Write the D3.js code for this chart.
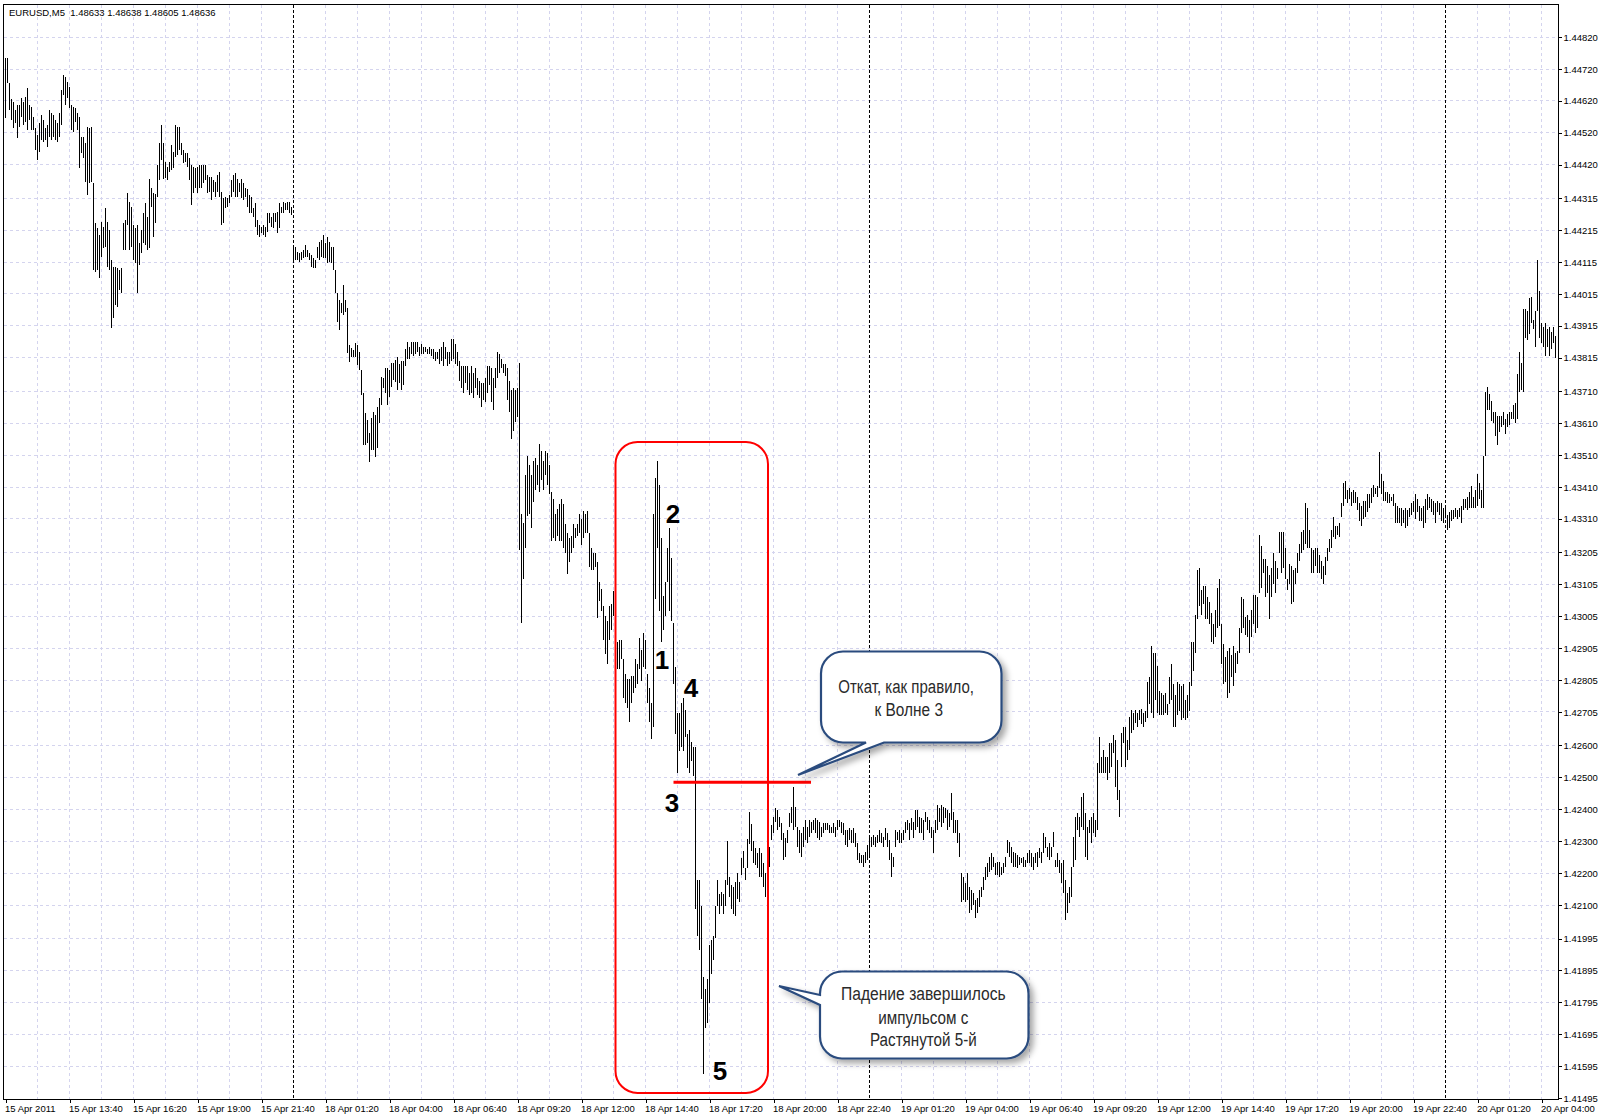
<!DOCTYPE html>
<html><head><meta charset="utf-8">
<script src="https://cdn.jsdelivr.net/npm/d3@7"></script>
<style>
body{margin:0;background:#fff}
svg{display:block}
text{font-family:"Liberation Sans",Arial,sans-serif}
</style>
</head><body>
<svg id="c" width="1600" height="1120"></svg>
<script>
// ---------------- DATA ----------------
const chartTitle = "EURUSD,M5  1.48633 1.48638 1.48605 1.48636";
const timeLabels = ["15 Apr 2011","15 Apr 13:40","15 Apr 16:20","15 Apr 19:00","15 Apr 21:40","18 Apr 01:20","18 Apr 04:00","18 Apr 06:40","18 Apr 09:20","18 Apr 12:00","18 Apr 14:40","18 Apr 17:20","18 Apr 20:00","18 Apr 22:40","19 Apr 01:20","19 Apr 04:00","19 Apr 06:40","19 Apr 09:20","19 Apr 12:00","19 Apr 14:40","19 Apr 17:20","19 Apr 20:00","19 Apr 22:40","20 Apr 01:20","20 Apr 04:00"];
const barsPerLabel = 32;
const barsPerGrid = 16;
const daySeparators = [144, 432, 720];
const priceLabels = ["1.44820","1.44720","1.44620","1.44520","1.44420","1.44315","1.44215","1.44115","1.44015","1.43915","1.43815","1.43710","1.43610","1.43510","1.43410","1.43310","1.43205","1.43105","1.43005","1.42905","1.42805","1.42705","1.42600","1.42500","1.42400","1.42300","1.42200","1.42100","1.41995","1.41895","1.41795","1.41695","1.41595","1.41495"];

const highs = [
1.44754,1.44754,1.44676,1.44626,1.44617,1.44591,1.44607,1.44607,1.44629,1.44617,
1.44632,1.44660,1.44607,1.44601,1.44569,1.44535,1.44513,1.44551,1.44576,1.44560,
1.44535,1.44544,1.44591,1.44582,1.44576,1.44560,1.44551,1.44582,1.44654,1.44701,
1.44695,1.44679,1.44663,1.44607,1.44601,1.44598,1.44582,1.44569,1.44507,1.44507,
1.44488,1.44538,1.44535,1.44538,1.44363,1.44238,1.44222,1.44200,1.44241,1.44225,
1.44284,1.44241,1.44215,1.44121,1.44099,1.44099,1.44096,1.44090,1.44096,1.44238,
1.44247,1.44332,1.44303,1.44287,1.44231,1.44222,1.44231,1.44175,1.44215,1.44269,
1.44300,1.44256,1.44375,1.44347,1.44331,1.44328,1.44419,1.44488,1.44544,1.44488,
1.44429,1.44413,1.44429,1.44482,1.44460,1.44544,1.44538,1.44538,1.44488,1.44466,
1.44457,1.44457,1.44441,1.44419,1.44413,1.44410,1.44413,1.44419,1.44419,1.44419,
1.44419,1.44388,1.44381,1.44381,1.44372,1.44366,1.44388,1.44397,1.44334,1.44316,
1.44319,1.44316,1.44325,1.44372,1.44388,1.44394,1.44375,1.44363,1.44375,1.44363,
1.44347,1.44344,1.44325,1.44319,1.44284,1.44300,1.44247,1.44231,1.44225,1.44231,
1.44225,1.44269,1.44269,1.44256,1.44269,1.44269,1.44272,1.44300,1.44287,1.44303,
1.44300,1.44303,1.44303,1.44287,1.44168,1.44162,1.44146,1.44143,1.44146,1.44152,
1.44168,1.44152,1.44143,1.44137,1.44127,1.44121,1.44162,1.44178,1.44184,1.44200,
1.44175,1.44193,1.44178,1.44162,1.44162,1.44090,1.44018,1.43996,1.43986,1.44043,
1.43996,1.43971,1.43855,1.43845,1.43839,1.43861,1.43855,1.43833,1.43776,1.43705,
1.43642,1.43620,1.43579,1.43626,1.43645,1.43636,1.43661,1.43689,1.43755,1.43752,
1.43783,1.43783,1.43776,1.43798,1.43798,1.43808,1.43817,1.43795,1.43805,1.43805,
1.43842,1.43864,1.43848,1.43864,1.43864,1.43864,1.43864,1.43848,1.43858,1.43848,
1.43848,1.43842,1.43848,1.43842,1.43842,1.43833,1.43833,1.43842,1.43848,1.43864,
1.43848,1.43833,1.43833,1.43874,1.43874,1.43858,1.43833,1.43805,1.43789,1.43789,
1.43789,1.43789,1.43767,1.43789,1.43767,1.43783,1.43752,1.43742,1.43736,1.43736,
1.43752,1.43789,1.43789,1.43783,1.43752,1.43783,1.43833,1.43827,1.43811,1.43795,
1.43795,1.43783,1.43742,1.43714,1.43720,1.43714,1.43720,1.43798,1.43325,1.43297,
1.43447,1.43507,1.43479,1.43447,1.43491,1.43501,1.43479,1.43545,1.43523,1.43491,
1.43523,1.43516,1.43479,1.43394,1.43372,1.43325,1.43341,1.43357,1.43372,1.43357,
1.43294,1.43266,1.43250,1.43256,1.43294,1.43281,1.43294,1.43325,1.43310,1.43335,
1.43325,1.43335,1.43266,1.43219,1.43203,1.43203,1.43175,1.43112,1.43090,1.43037,
1.43005,1.42990,1.43037,1.43043,1.43084,1.42962,1.42924,1.42930,1.42930,1.42871,
1.42824,1.42808,1.42808,1.42818,1.42818,1.42871,1.42855,1.42937,1.42899,1.42952,
1.42930,1.42824,1.42780,1.42733,1.43325,1.43438,1.43491,1.43416,1.43250,1.43068,
1.43112,1.43219,1.43281,1.43187,1.42984,1.42846,1.42701,1.42701,1.42733,1.42749,
1.42711,1.42636,1.42648,1.42611,1.42595,1.42595,1.42178,1.42178,1.42097,1.41874,
1.41837,1.41868,1.41974,1.41990,1.42003,1.42097,1.42178,1.42134,1.42141,1.42134,
1.42178,1.42300,1.42187,1.42162,1.42156,1.42172,1.42200,1.42172,1.42247,1.42269,
1.42216,1.42307,1.42391,1.42354,1.42300,1.42278,1.42263,1.42278,1.42263,1.42231,
1.42200,1.42272,1.42282,1.42351,1.42376,1.42404,1.42397,1.42376,1.42357,1.42326,
1.42310,1.42335,1.42388,1.42407,1.42470,1.42407,1.42344,1.42335,1.42326,1.42344,
1.42366,1.42344,1.42366,1.42360,1.42366,1.42373,1.42366,1.42360,1.42344,1.42357,
1.42357,1.42357,1.42351,1.42344,1.42357,1.42344,1.42366,1.42366,1.42360,1.42357,
1.42335,1.42335,1.42341,1.42335,1.42341,1.42326,1.42294,1.42263,1.42256,1.42256,
1.42266,1.42288,1.42310,1.42313,1.42319,1.42313,1.42319,1.42335,1.42326,1.42313,
1.42341,1.42326,1.42303,1.42263,1.42250,1.42335,1.42329,1.42335,1.42326,1.42335,
1.42360,1.42366,1.42357,1.42373,1.42360,1.42397,1.42397,1.42376,1.42373,1.42366,
1.42391,1.42376,1.42366,1.42344,1.42335,1.42366,1.42413,1.42404,1.42413,1.42407,
1.42404,1.42397,1.42388,1.42451,1.42391,1.42366,1.42366,1.42326,1.42200,1.42187,
1.42169,1.42200,1.42156,1.42147,1.42137,1.42115,1.42122,1.42147,1.42156,1.42187,
1.42219,1.42231,1.42250,1.42263,1.42250,1.42231,1.42234,1.42234,1.42219,1.42231,
1.42250,1.42303,1.42297,1.42282,1.42266,1.42263,1.42256,1.42250,1.42247,1.42250,
1.42241,1.42263,1.42272,1.42263,1.42250,1.42263,1.42266,1.42278,1.42266,1.42326,
1.42313,1.42282,1.42294,1.42282,1.42329,1.42241,1.42263,1.42241,1.42231,1.42241,
1.42178,1.42137,1.42156,1.42219,1.42313,1.42376,1.42388,1.42376,1.42438,1.42451,
1.42388,1.42344,1.42366,1.42376,1.42388,1.42366,1.42545,1.42627,1.42564,1.42586,
1.42564,1.42564,1.42608,1.42608,1.42633,1.42617,1.42554,1.42460,1.42639,1.42658,
1.42658,1.42617,1.42689,1.42711,1.42702,1.42711,1.42702,1.42711,1.42714,1.42702,
1.42708,1.42799,1.42814,1.42912,1.42890,1.42890,1.42849,1.42771,1.42764,1.42758,
1.42764,1.42730,1.42814,1.42855,1.42793,1.42758,1.42799,1.42793,1.42786,1.42793,
1.42742,1.42758,1.42799,1.42924,1.42924,1.43009,1.43150,1.43156,1.43087,1.43099,
1.43099,1.43065,1.43049,1.43015,1.42980,1.43024,1.43093,1.43121,1.42980,1.42918,
1.42877,1.42896,1.42905,1.42883,1.42912,1.42890,1.42896,1.42968,1.43065,1.43059,
1.43002,1.43009,1.42993,1.43024,1.43071,1.43071,1.43065,1.43260,1.43225,1.43184,
1.43184,1.43162,1.43134,1.43156,1.43203,1.43178,1.43156,1.43269,1.43269,1.43269,
1.43219,1.43121,1.43168,1.43162,1.43150,1.43156,1.43203,1.43231,1.43269,1.43275,
1.43360,1.43344,1.43275,1.43219,1.43212,1.43219,1.43219,1.43197,1.43178,1.43162,
1.43190,1.43219,1.43247,1.43275,1.43316,1.43288,1.43288,1.43297,1.43360,1.43422,
1.43429,1.43400,1.43407,1.43394,1.43400,1.43394,1.43379,1.43360,1.43350,1.43366,
1.43366,1.43388,1.43388,1.43407,1.43416,1.43407,1.43413,1.43520,1.43451,1.43429,
1.43394,1.43394,1.43388,1.43379,1.43388,1.43360,1.43350,1.43344,1.43344,1.43338,
1.43344,1.43338,1.43344,1.43360,1.43366,1.43388,1.43372,1.43350,1.43344,1.43350,
1.43372,1.43388,1.43379,1.43372,1.43366,1.43360,1.43366,1.43360,1.43360,1.43344,
1.43344,1.43322,1.43332,1.43338,1.43338,1.43344,1.43338,1.43344,1.43350,1.43372,
1.43372,1.43379,1.43394,1.43413,1.43379,1.43400,1.43451,1.43422,1.43400,1.43507,
1.43708,1.43723,1.43701,1.43679,1.43645,1.43645,1.43632,1.43632,1.43632,1.43645,
1.43623,1.43639,1.43645,1.43645,1.43667,1.43673,1.43764,1.43833,1.43798,1.43968,
1.43968,1.43961,1.44002,1.44005,1.43933,1.43961,1.44121,1.44024,1.43924,1.43911,
1.43924,1.43905,1.43911,1.43896,1.43911,1.43883
];
const lows = [
1.44566,1.44676,1.44591,1.44560,1.44535,1.44551,1.44504,1.44538,1.44569,1.44544,
1.44554,1.44529,1.44560,1.44529,1.44529,1.44466,1.44435,1.44460,1.44497,1.44491,
1.44497,1.44475,1.44507,1.44497,1.44507,1.44497,1.44491,1.44507,1.44544,1.44638,
1.44607,1.44629,1.44598,1.44529,1.44522,1.44554,1.44529,1.44410,1.44457,1.44441,
1.44366,1.44325,1.44363,1.44366,1.44090,1.44084,1.44090,1.44065,1.44130,1.44159,
1.44162,1.44099,1.44090,1.43908,1.43939,1.43980,1.43974,1.44027,1.44018,1.44152,
1.44152,1.44231,1.44152,1.44162,1.44121,1.44112,1.44018,1.44105,1.44143,1.44175,
1.44168,1.44152,1.44159,1.44287,1.44193,1.44238,1.44319,1.44372,1.44435,1.44375,
1.44378,1.44372,1.44397,1.44403,1.44410,1.44444,1.44450,1.44466,1.44450,1.44425,
1.44429,1.44413,1.44372,1.44294,1.44331,1.44347,1.44331,1.44347,1.44347,1.44363,
1.44372,1.44331,1.44334,1.44309,1.44334,1.44319,1.44334,1.44319,1.44231,1.44238,
1.44284,1.44287,1.44300,1.44319,1.44334,1.44319,1.44319,1.44334,1.44316,1.44309,
1.44319,1.44287,1.44269,1.44269,1.44256,1.44225,1.44200,1.44193,1.44206,1.44200,
1.44193,1.44209,1.44238,1.44225,1.44222,1.44241,1.44206,1.44222,1.44269,1.44269,
1.44278,1.44278,1.44269,1.44262,1.44115,1.44121,1.44121,1.44115,1.44121,1.44127,
1.44130,1.44130,1.44121,1.44099,1.44096,1.44096,1.44127,1.44121,1.44130,1.44127,
1.44127,1.44112,1.44115,1.44112,1.44090,1.44018,1.43927,1.43902,1.43955,1.43949,
1.43958,1.43830,1.43802,1.43817,1.43817,1.43817,1.43792,1.43776,1.43698,1.43542,
1.43542,1.43548,1.43488,1.43526,1.43526,1.43504,1.43532,1.43611,1.43667,1.43720,
1.43705,1.43667,1.43692,1.43723,1.43745,1.43739,1.43714,1.43736,1.43714,1.43730,
1.43789,1.43811,1.43811,1.43827,1.43820,1.43827,1.43833,1.43820,1.43827,1.43827,
1.43833,1.43827,1.43827,1.43820,1.43811,1.43805,1.43811,1.43795,1.43805,1.43789,
1.43811,1.43789,1.43795,1.43805,1.43811,1.43795,1.43789,1.43742,1.43720,1.43705,
1.43736,1.43714,1.43698,1.43705,1.43689,1.43720,1.43698,1.43689,1.43661,1.43682,
1.43676,1.43705,1.43730,1.43676,1.43651,1.43720,1.43752,1.43767,1.43783,1.43767,
1.43758,1.43682,1.43645,1.43560,1.43585,1.43614,1.43629,1.43212,1.42984,1.43121,
1.43219,1.43319,1.43325,1.43281,1.43363,1.43400,1.43416,1.43394,1.43432,1.43400,
1.43447,1.43416,1.43388,1.43241,1.43250,1.43241,1.43256,1.43241,1.43241,1.43219,
1.43203,1.43137,1.43175,1.43203,1.43219,1.43250,1.43256,1.43266,1.43228,1.43250,
1.43266,1.43266,1.43159,1.43150,1.43150,1.43159,1.42999,1.43053,1.43021,1.42930,
1.42886,1.42855,1.42930,1.42962,1.43005,1.42840,1.42840,1.42840,1.42871,1.42749,
1.42733,1.42717,1.42674,1.42733,1.42764,1.42780,1.42793,1.42840,1.42802,1.42846,
1.42840,1.42733,1.42674,1.42620,1.42658,1.43059,1.43219,1.43021,1.42924,1.42962,
1.43005,1.43112,1.43021,1.42990,1.42793,1.42636,1.42514,1.42582,1.42595,1.42582,
1.42627,1.42529,1.42514,1.42551,1.42504,1.42088,1.42003,1.41959,1.41805,1.41570,
1.41714,1.41730,1.41793,1.41884,1.41927,1.41996,1.42097,1.42072,1.42097,1.42072,
1.42097,1.42162,1.42125,1.42088,1.42072,1.42066,1.42119,1.42109,1.42194,1.42216,
1.42178,1.42216,1.42291,1.42269,1.42231,1.42225,1.42216,1.42187,1.42187,1.42156,
1.42125,1.42178,1.42219,1.42303,1.42326,1.42360,1.42335,1.42344,1.42303,1.42241,
1.42250,1.42294,1.42344,1.42357,1.42335,1.42344,1.42282,1.42263,1.42250,1.42282,
1.42303,1.42294,1.42313,1.42326,1.42335,1.42326,1.42310,1.42303,1.42313,1.42326,
1.42335,1.42335,1.42326,1.42326,1.42326,1.42313,1.42335,1.42344,1.42326,1.42319,
1.42288,1.42282,1.42303,1.42294,1.42294,1.42282,1.42241,1.42231,1.42231,1.42219,
1.42231,1.42241,1.42250,1.42282,1.42288,1.42282,1.42294,1.42297,1.42294,1.42282,
1.42303,1.42282,1.42241,1.42187,1.42219,1.42282,1.42303,1.42294,1.42294,1.42303,
1.42326,1.42335,1.42303,1.42335,1.42310,1.42335,1.42344,1.42326,1.42326,1.42303,
1.42360,1.42335,1.42326,1.42310,1.42263,1.42326,1.42335,1.42360,1.42344,1.42357,
1.42373,1.42335,1.42344,1.42366,1.42326,1.42326,1.42294,1.42250,1.42109,1.42115,
1.42109,1.42115,1.42075,1.42084,1.42100,1.42059,1.42075,1.42094,1.42125,1.42147,
1.42178,1.42187,1.42203,1.42209,1.42219,1.42194,1.42194,1.42187,1.42194,1.42200,
1.42219,1.42263,1.42250,1.42231,1.42219,1.42219,1.42216,1.42225,1.42231,1.42219,
1.42219,1.42231,1.42231,1.42219,1.42209,1.42231,1.42219,1.42247,1.42231,1.42263,
1.42278,1.42250,1.42241,1.42250,1.42282,1.42219,1.42219,1.42200,1.42169,1.42137,
1.42053,1.42075,1.42106,1.42125,1.42219,1.42241,1.42335,1.42313,1.42344,1.42335,
1.42250,1.42241,1.42326,1.42294,1.42326,1.42313,1.42335,1.42513,1.42513,1.42513,
1.42513,1.42491,1.42513,1.42532,1.42576,1.42470,1.42429,1.42376,1.42532,1.42608,
1.42532,1.42554,1.42586,1.42639,1.42648,1.42670,1.42658,1.42680,1.42667,1.42658,
1.42674,1.42686,1.42730,1.42702,1.42686,1.42742,1.42702,1.42695,1.42695,1.42695,
1.42702,1.42695,1.42730,1.42742,1.42658,1.42658,1.42695,1.42708,1.42680,1.42686,
1.42680,1.42686,1.42708,1.42786,1.42833,1.42890,1.42996,1.43037,1.43009,1.43043,
1.42996,1.42996,1.42980,1.42924,1.42918,1.42940,1.42968,1.42974,1.42855,1.42793,
1.42799,1.42749,1.42764,1.42814,1.42786,1.42827,1.42855,1.42890,1.42952,1.42968,
1.42946,1.42940,1.42890,1.42940,1.42980,1.42952,1.42968,1.43078,1.43093,1.43140,
1.43065,1.43078,1.42996,1.43065,1.43106,1.43078,1.43121,1.43203,1.43140,1.43156,
1.43121,1.43087,1.43106,1.43043,1.43049,1.43106,1.43140,1.43178,1.43203,1.43212,
1.43231,1.43219,1.43219,1.43140,1.43140,1.43162,1.43140,1.43140,1.43121,1.43106,
1.43134,1.43178,1.43206,1.43219,1.43253,1.43247,1.43260,1.43253,1.43316,1.43350,
1.43372,1.43360,1.43372,1.43350,1.43360,1.43360,1.43338,1.43303,1.43288,1.43310,
1.43316,1.43332,1.43344,1.43360,1.43379,1.43388,1.43379,1.43407,1.43388,1.43366,
1.43366,1.43360,1.43360,1.43366,1.43350,1.43297,1.43297,1.43297,1.43288,1.43297,
1.43281,1.43288,1.43316,1.43322,1.43332,1.43310,1.43332,1.43303,1.43303,1.43281,
1.43297,1.43338,1.43344,1.43332,1.43322,1.43297,1.43332,1.43322,1.43303,1.43297,
1.43316,1.43275,1.43281,1.43303,1.43310,1.43316,1.43310,1.43316,1.43297,1.43338,
1.43344,1.43338,1.43344,1.43344,1.43344,1.43344,1.43350,1.43372,1.43344,1.43344,
1.43507,1.43651,1.43651,1.43617,1.43610,1.43570,1.43542,1.43582,1.43598,1.43604,
1.43576,1.43598,1.43604,1.43623,1.43623,1.43610,1.43623,1.43708,1.43714,1.43708,
1.43877,1.43870,1.43889,1.43924,1.43905,1.43849,1.43961,1.43877,1.43861,1.43849,
1.43820,1.43849,1.43820,1.43842,1.43861,1.43814
];

// Annotations (data space: bar index, price)
const waveLabels = ["1","2","3","4","5"];
const waveBars   = [328.3, 333.75, 333.25, 342.75, 357.25];
const wavePrices = [1.42866, 1.43325, 1.42420, 1.42780, 1.41580];
const boxBars   = [305, 381.25];
const boxPrices = [1.43551, 1.41511];
const levelBars  = [334, 402.75];
const levelPrice = 1.42485;
const callout1Lines = ["Откат, как правило,", "к Волне 3"];
const callout2Lines = ["Падение завершилось", "импульсом с", "Растянутой 5-й"];

// ---------------- CHART ----------------
const svg = d3.select("#c");
const frame = {left: 3.5, top: 4.5, right: 1558.5, bottom: 1099.5};
const x = d3.scaleLinear().domain([0, 776]).range([5.5, 1557.5]);
const y = d3.scaleLinear().domain([1.41495, 1.44820]).range([1098.05, 37.1]);
const snap = v => Math.round(v - 0.5) + 0.5;

const defs = svg.append("defs");
const f = defs.append("filter").attr("id","sh").attr("x","-20%").attr("y","-20%").attr("width","150%").attr("height","160%");
f.append("feDropShadow").attr("dx",4).attr("dy",4).attr("stdDeviation",3)
  .attr("flood-color","#000").attr("flood-opacity",0.35);

svg.append("rect").attr("width",1600).attr("height",1120).attr("fill","#fff");

// grid
const grid = svg.append("g").attr("shape-rendering","crispEdges");
grid.selectAll("line.h").data(priceLabels.slice(0, -1)).join("line")
  .attr("x1", frame.left).attr("x2", frame.right)
  .attr("y1", d => snap(y(+d))).attr("y2", d => snap(y(+d)))
  .attr("stroke", "#d4d4ee").attr("stroke-dasharray", "3,3");
const vIdx = d3.range(barsPerGrid, 776, barsPerGrid).filter(i => !daySeparators.includes(i));
grid.selectAll("line.v").data(vIdx).join("line")
  .attr("x1", d => x(d)).attr("x2", d => x(d))
  .attr("y1", frame.top).attr("y2", frame.bottom)
  .attr("stroke", "#d4d4ee").attr("stroke-dasharray", "3,3");
grid.selectAll("line.d").data(daySeparators).join("line")
  .attr("x1", d => x(d)).attr("x2", d => x(d))
  .attr("y1", frame.top).attr("y2", frame.bottom)
  .attr("stroke", "#000").attr("stroke-dasharray", "3,2");

// bars
const bars = highs.map((h, i) => ({i, h, l: lows[i]}));
svg.append("g").attr("shape-rendering","crispEdges")
  .selectAll("line").data(bars).join("line")
  .attr("x1", d => x(d.i)).attr("x2", d => x(d.i))
  .attr("y1", d => Math.round(y(d.h)))
  .attr("y2", d => Math.max(Math.round(y(d.l)), Math.round(y(d.h)) + 2))
  .attr("stroke", "#000").attr("stroke-width", 1);

// frame
svg.append("rect").attr("x", frame.left).attr("y", frame.top)
  .attr("width", frame.right - frame.left).attr("height", frame.bottom - frame.top)
  .attr("fill", "none").attr("stroke", "#000").attr("shape-rendering","crispEdges");

// axes
const yAxis = d3.axisRight(y).tickValues(priceLabels.map(Number))
  .tickFormat((d, k) => priceLabels[k]).tickSize(3).tickPadding(2);
const gy = svg.append("g").attr("transform", `translate(${frame.right},0)`).call(yAxis);
gy.select(".domain").remove();
gy.selectAll(".tick line").attr("stroke","#000").attr("shape-rendering","crispEdges");
gy.selectAll(".tick text").attr("font-family","'Liberation Sans',Arial,sans-serif")
  .attr("font-size", 9.5).attr("fill","#000");

const tIdx = d3.range(0, timeLabels.length).map(k => k * barsPerLabel);
const xAxis = d3.axisBottom(x).tickValues(tIdx)
  .tickFormat((d, k) => timeLabels[k]).tickSize(3).tickPadding(3);
const gx = svg.append("g").attr("transform", `translate(0,${frame.bottom})`).call(xAxis);
gx.select(".domain").remove();
gx.selectAll(".tick line").attr("stroke","#000").attr("shape-rendering","crispEdges");
gx.selectAll(".tick text").attr("text-anchor","start").attr("x", -1)
  .attr("font-family","'Liberation Sans',Arial,sans-serif").attr("font-size", 9.5).attr("fill","#000");

// title
svg.append("text").attr("x", 9).attr("y", 16).attr("font-size", 9.5).attr("fill","#000")
  .attr("xml:space","preserve").style("white-space","pre").text(chartTitle);

// red box
svg.append("rect")
  .attr("x", x(boxBars[0])).attr("y", y(boxPrices[0]))
  .attr("width", x(boxBars[1]) - x(boxBars[0])).attr("height", y(boxPrices[1]) - y(boxPrices[0]))
  .attr("rx", 22).attr("ry", 22)
  .attr("fill","none").attr("stroke","#ff0000").attr("stroke-width", 2);

// level line
svg.append("line")
  .attr("x1", x(levelBars[0])).attr("x2", x(levelBars[1]))
  .attr("y1", y(levelPrice)).attr("y2", y(levelPrice))
  .attr("stroke","#ff0000").attr("stroke-width", 3);

// wave numbers
svg.append("g").selectAll("text").data(waveLabels).join("text")
  .attr("x", (d, k) => x(waveBars[k])).attr("y", (d, k) => y(wavePrices[k]))
  .attr("dy", "0.34em").attr("text-anchor", "middle")
  .attr("font-family", "'Liberation Mono','Courier New',monospace")
  .attr("font-weight", "bold").attr("font-size", 26).attr("fill", "#000")
  .text(d => d);

// callouts (layout in pixels)
function bubbleBottom(x0, y0, x1, y1, r, a, b, tx, ty) {
  return `M${x0+r},${y0}H${x1-r}A${r},${r} 0 0 1 ${x1},${y0+r}V${y1-r}A${r},${r} 0 0 1 ${x1-r},${y1}` +
    `H${b}L${tx},${ty}L${a},${y1}H${x0+r}A${r},${r} 0 0 1 ${x0},${y1-r}V${y0+r}A${r},${r} 0 0 1 ${x0+r},${y0}Z`;
}
function bubbleLeft(x0, y0, x1, y1, r, a, b, tx, ty) {
  return `M${x0+r},${y0}H${x1-r}A${r},${r} 0 0 1 ${x1},${y0+r}V${y1-r}A${r},${r} 0 0 1 ${x1-r},${y1}` +
    `H${x0+r}A${r},${r} 0 0 1 ${x0},${y1-r}V${b}L${tx},${ty}L${x0},${a}V${y0+r}A${r},${r} 0 0 1 ${x0+r},${y0}Z`;
}
const cStroke = "#2b4c7e";
svg.append("path").attr("d", bubbleBottom(821, 651.5, 1001.5, 742.5, 22, 866, 884, 798, 775))
  .attr("fill","#fff").attr("stroke", cStroke).attr("stroke-width", 2.2).attr("filter","url(#sh)");
svg.append("path").attr("d", bubbleLeft(820, 971.5, 1028.5, 1058.5, 22, 995, 1005, 779, 986))
  .attr("fill","#fff").attr("stroke", cStroke).attr("stroke-width", 2.2).attr("filter","url(#sh)");

const c1 = [{x: 838.3, cy: 686.7, w: 135.7}, {x: 874.5, cy: 709.3, w: 68.5}];
const c2 = [{x: 841, cy: 993.3, w: 164.7}, {x: 878.3, cy: 1017.3, w: 90}, {x: 870, cy: 1039, w: 106.7}];
function drawLines(lines, pos) {
  svg.append("g").selectAll("text").data(lines).join("text")
    .attr("x", (d, k) => pos[k].x).attr("y", (d, k) => pos[k].cy + 6.5)
    .attr("textLength", (d, k) => pos[k].w).attr("lengthAdjust", "spacingAndGlyphs")
    .attr("font-family", "'Liberation Sans Narrow','Arial Narrow','Liberation Sans',sans-serif")
    .attr("font-size", 18).attr("fill", "#2a2a2a").text(d => d);
}
drawLines(callout1Lines, c1);
drawLines(callout2Lines, c2);
</script>
</body></html>
